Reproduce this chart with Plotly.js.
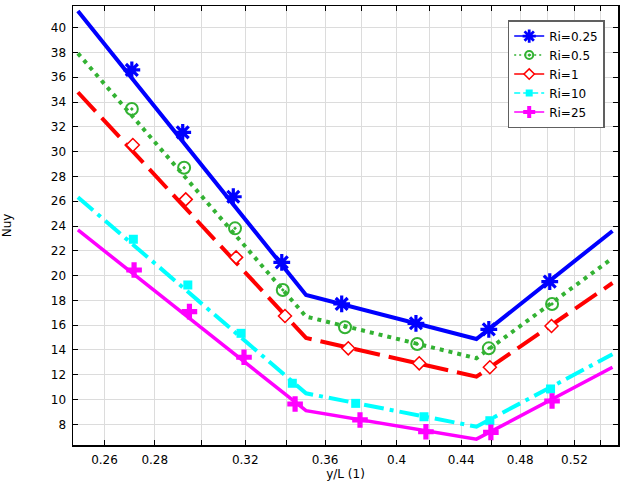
<!DOCTYPE html>
<html>
<head>
<meta charset="utf-8">
<script src="https://cdn.plot.ly/plotly-3.0.1.min.js"></script>
<style>html,body{margin:0;padding:0;background:#fff;}#chart{width:624px;height:487px;}</style>
</head>
<body>
<div id="chart"></div>
<script>
// Line vertices (y/L) shared by all series
var vertexX = [0.25, 0.35, 0.45, 0.55];
var lineRi025 = [41.35, 18.43, 14.88, 23.6];
var lineRi05  = [37.93, 16.69, 13.33, 21.4];
var lineRi1   = [34.79, 14.97, 11.84, 19.4];
var lineRi10  = [26.32, 10.5, 7.81, 13.65];
var lineRi25  = [23.68, 9.10, 6.8, 12.6];

// Marker positions
var mkX025 = [0.2707, 0.2918, 0.3144, 0.3377, 0.3689, 0.4116, 0.4583, 0.5014];
var mkY025 = [36.59, 31.56, 26.36, 21.07, 17.71, 16.15, 15.66, 19.51];
var mkX05  = [0.2707, 0.2924, 0.3152, 0.3382, 0.3707, 0.4124, 0.4583, 0.5031];
var mkY05  = [33.44, 28.70, 23.81, 18.84, 15.83, 14.48, 14.13, 17.71];
var mkX1   = [0.2711, 0.2931, 0.3157, 0.3393, 0.3725, 0.4136, 0.4590, 0.5027];
var mkY1   = [30.54, 26.15, 21.47, 16.74, 14.13, 12.92, 12.60, 15.93];
var mkX10  = [0.2713, 0.2940, 0.3180, 0.3430, 0.3766, 0.4165, 0.4590, 0.5020];
var mkY10  = [22.93, 19.24, 15.34, 11.31, 9.69, 8.61, 8.29, 10.85];
var mkX25  = [0.2716, 0.2947, 0.3194, 0.3444, 0.3790, 0.4177, 0.4597, 0.5031];
var mkY25  = [20.45, 17.09, 13.41, 9.64, 8.35, 7.40, 7.35, 9.88];

var seriesNames = ['Ri=0.25', 'Ri=0.5', 'Ri=1', 'Ri=10', 'Ri=25'];

// Axis ticks
var xTickVals = [0.26, 0.28, 0.30, 0.32, 0.34, 0.36, 0.38, 0.40, 0.42, 0.44, 0.46, 0.48, 0.50, 0.52, 0.54];
var xTickText = ['0.26', '0.28', '', '0.32', '', '0.36', '', '0.4', '', '0.44', '', '0.48', '', '0.52', ''];

var lines = [lineRi025, lineRi05, lineRi1, lineRi10, lineRi25];
var mkXs = [mkX025, mkX05, mkX1, mkX10, mkX25];
var mkYs = [mkY025, mkY05, mkY1, mkY10, mkY25];

var styles = [
  {color:'#0000ff', dash:'solid', width:4,
   marker:{symbol:'asterisk-open', size:14, color:'#0000ff', line:{color:'#0000ff', width:3.2}},
   legMarker:{symbol:'asterisk-open', size:11, color:'#0000ff', line:{color:'#0000ff', width:2.8}}, legDash:'solid'},
  {color:'#33b233', dash:'4px,5px', width:4,
   marker:{symbol:'circle-open-dot', size:12, color:'#33b233', line:{color:'#33b233', width:2}},
   legMarker:{symbol:'circle-open-dot', size:8, color:'#33b233', line:{color:'#33b233', width:2}}, legDash:'2px,3px'},
  {color:'#ff0000', dash:'26px,9px', width:4,
   marker:{symbol:'diamond', size:10, color:'#ffffff', line:{color:'#ff0000', width:1.5}},
   legMarker:{symbol:'diamond', size:8, color:'#ffffff', line:{color:'#ff0000', width:1.5}}, legDash:'solid'},
  {color:'#00ffff', dash:'20px,6px,4px,6px', width:4,
   marker:{symbol:'square', size:9, color:'#00ffff', line:{color:'#00ffff', width:0}},
   legMarker:{symbol:'square', size:7, color:'#00ffff', line:{width:0}}, legDash:'6px,3px'},
  {color:'#ff00ff', dash:'solid', width:3.5,
   marker:{symbol:'cross', size:13, color:'#ff00ff', line:{color:'#ff00ff', width:0}},
   legMarker:{symbol:'cross', size:10, color:'#ff00ff', line:{width:0}}, legDash:'solid'}
];

var traces = [];
for (var i = 0; i < 5; i++) {
  var s = styles[i];
  traces.push({x: vertexX, y: lines[i], mode:'lines', showlegend:false, hoverinfo:'skip',
    line:{color:s.color, width:s.width, dash:s.dash}});
}
for (var j = 0; j < 5; j++) {
  var s2 = styles[j];
  traces.push({x: mkXs[j], y: mkYs[j], mode:'markers', showlegend:false, marker:s2.marker});
}
for (var k = 0; k < 5; k++) {
  var s3 = styles[k];
  traces.push({x:[null], y:[null], mode:'lines+markers', name: seriesNames[k], showlegend:true,
    line:{color:s3.color, width:1.5, dash:s3.legDash}, marker:s3.legMarker});
}

var font = {family:'DejaVu Sans', size:12, color:'#000'};
var layout = {
  width:624, height:487,
  margin:{l:73, r:6, t:6, b:42},
  paper_bgcolor:'#fff', plot_bgcolor:'#fff',
  font: font,
  showlegend:true,
  xaxis:{
    type:'log', range:[Math.log10(0.2482), Math.log10(0.5545)],
    tickmode:'array', tickvals:xTickVals, ticktext:xTickText,
    ticks:'inside', ticklen:5, tickcolor:'#000', tickwidth:1,
    showline:true, linecolor:'#000', linewidth:1.5, mirror:'ticks',
    showgrid:true, gridcolor:'#dcdcdc', gridwidth:1, zeroline:false,
    ticklabelstandoff:3,
    title:{text:'y/L (1)', font:font, standoff:3}
  },
  yaxis:{
    range:[6.33, 41.75], tickmode:'linear', tick0:8, dtick:2,
    ticks:'inside', ticklen:5, tickcolor:'#000', tickwidth:1,
    showline:true, linecolor:'#000', linewidth:1.5, mirror:'ticks',
    showgrid:true, gridcolor:'#dcdcdc', gridwidth:1, zeroline:false,
    ticklabelstandoff:3,
    title:{text:'Nuy', font:font, standoff:38}
  },
  legend:{
    x:0.9756, xanchor:'right', y:0.968, yanchor:'top',
    bgcolor:'#fff', bordercolor:'#606060', borderwidth:1.5,
    font:font, traceorder:'normal'
  }
};

Plotly.newPlot('chart', traces, layout, {displayModeBar:false, staticPlot:true});
</script>
</body>
</html>
